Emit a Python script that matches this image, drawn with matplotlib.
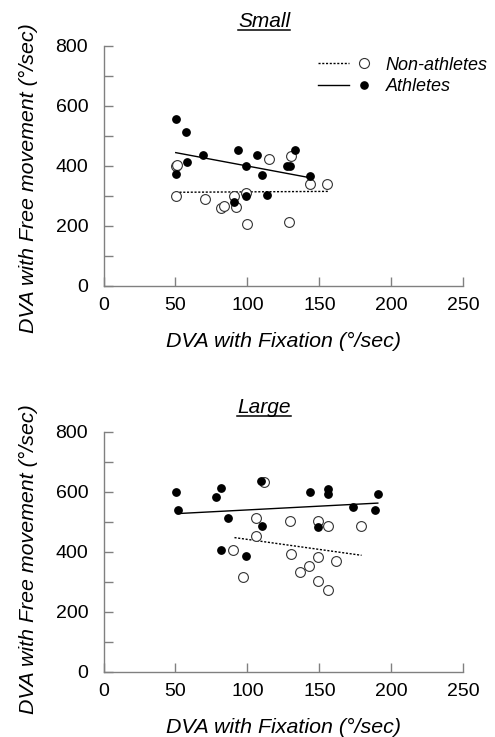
import matplotlib
matplotlib.use("Agg")
import matplotlib.pyplot as plt
import numpy as np
from matplotlib.legend_handler import HandlerTuple
from matplotlib.lines import Line2D

plt.rcParams['font.family'] = ['Liberation Sans', 'DejaVu Sans']

# ---- Small ----
small_ath_x = [50.2, 57.6, 58.1, 50.2, 69.4, 93.5, 106.5, 99.3, 110.4, 113.4, 99.3, 91.0, 127.6, 129.7, 133.2, 143.5]
small_ath_y = [556, 512, 412, 373, 437, 453, 437, 400, 370, 303, 300, 281, 400, 400, 452, 367]
small_non_x = [50.2, 51.0, 50.2, 70.5, 81.8, 83.4, 91.0, 92.0, 99.3, 99.5, 114.7, 130.4, 129.0, 143.5, 155.3]
small_non_y = [400, 404, 300, 289, 259, 265, 301, 264, 309, 206, 422, 432, 212, 340, 340]
small_ath_fit_x = [50.2, 142.9]
small_ath_fit_y = [444, 361]
small_non_fit_x = [50.2, 156.0]
small_non_fit_y = [312, 315]

# ---- Large ----
large_ath_x = [50.2, 51.6, 78.3, 81.8, 86.2, 81.8, 99.1, 109.2, 110.1, 143.8, 156.0, 156.0, 148.8, 173.7, 188.5, 190.6]
large_ath_y = [600, 540, 583, 613, 513, 407, 385, 637, 486, 600, 608, 593, 481, 550, 539, 593]
large_non_x = [111.8, 106.2, 106.2, 90.3, 97.2, 129.5, 130.4, 148.8, 155.8, 178.6, 148.8, 161.3, 142.9, 136.4, 148.8, 155.8]
large_non_y = [633, 514, 454, 405, 315, 501, 391, 501, 486, 486, 383, 368, 353, 331, 303, 273]
large_ath_fit_x = [51.2, 190.6]
large_ath_fit_y = [527, 562]
large_non_fit_x = [91.0, 179.3]
large_non_fit_y = [447, 388]

titles = ["Small", "Large"]
xticks = [0, 50, 100, 150, 200, 250]
yticks = [0, 200, 400, 600, 800]
xlabel = "DVA with Fixation (°/sec)"
ylabel = "DVA with Free movement (°/sec)"
legend_labels = ["Non-athletes", "Athletes"]

W, H = 495, 737
fig = plt.figure(figsize=(W / 100, H / 100), dpi=100)
left = 103.5 / W
width = (463.3 - 103.5) / W
ax1 = fig.add_axes([left, 1 - 286 / H, width, (286 - 45.7) / H])
ax2 = fig.add_axes([left, 1 - 671.7 / H, width, (671.7 - 431.7) / H])

gray = '#808080'
dots = (0, (1.5, 1.2))

panels = [
    (ax1, small_ath_x, small_ath_y, small_non_x, small_non_y,
     small_ath_fit_x, small_ath_fit_y, small_non_fit_x, small_non_fit_y),
    (ax2, large_ath_x, large_ath_y, large_non_x, large_non_y,
     large_ath_fit_x, large_ath_fit_y, large_non_fit_x, large_non_fit_y),
]
ylabel_y = [0.449, 0.47]

title_texts = []
for i, (ax, ax_x, ax_y, nx, ny, afx, afy, nfx, nfy) in enumerate(panels):
    ax.plot(afx, afy, color='black', lw=1.0, zorder=2)
    ax.plot(nfx, nfy, color='black', lw=1.0, ls=dots, zorder=2)
    ax.scatter(nx, ny, s=50, facecolors='white', edgecolors='#333333', linewidths=0.8, zorder=3)
    ax.scatter(ax_x, ax_y, s=28, color='black', zorder=4)
    ax.set_xlim(0, 250)
    ax.set_ylim(0, 800)
    ax.set_xticks(xticks)
    ax.set_yticks(yticks)
    ax.set_yticks(np.arange(100, 800, 200), minor=True)
    for s in ['top', 'right']:
        ax.spines[s].set_visible(False)
    for s in ['left', 'bottom']:
        ax.spines[s].set_color(gray)
        ax.spines[s].set_linewidth(1.0)
    ax.tick_params(which='both', direction='in', length=6.5, width=1.0, color=gray,
                   labelsize=14, labelcolor='black', pad=8)
    ax.tick_params(axis='y', pad=11)
    ax.set_xlabel(xlabel, fontsize=15.4, style='italic', labelpad=13)
    ax.set_ylabel(ylabel, fontsize=15.4, style='italic')
    ax.yaxis.set_label_coords((38 - 103.5) / 359.8, ylabel_y[i])
    t = ax.text(0.446, 1.079, titles[i], transform=ax.transAxes,
                ha='center', va='baseline', fontsize=15, style='italic')
    title_texts.append((ax, t))

h_non = (Line2D([], [], color='black', lw=1.0, ls=dots),
         Line2D([], [], marker='o', ls='none', markersize=7.2, markerfacecolor='white',
                markeredgecolor='#333333', markeredgewidth=0.8))
h_ath = (Line2D([], [], color='black', lw=1.0),
         Line2D([], [], marker='o', ls='none', markersize=5.2, color='black'))
leg = ax1.legend([h_non, h_ath], legend_labels, handler_map={tuple: HandlerTuple(ndivide=None, pad=0.0)},
                 loc='upper left', bbox_to_anchor=(0.596, 0.954), frameon=False,
                 handlelength=3.43, handletextpad=0.33, labelspacing=0.25,
                 prop={'style': 'italic', 'size': 13}, borderpad=0, borderaxespad=0)

# underline titles
fig.canvas.draw()
renderer = fig.canvas.get_renderer()
for ax, t in title_texts:
    bb = t.get_window_extent(renderer)
    base = ax.transAxes.transform((0, 1.079))[1]
    y = base - 3.0
    fig.add_artist(Line2D([bb.x0 / W, bb.x1 / W], [y / H, y / H], color='black', lw=1.1,
                          transform=fig.transFigure))

fig.savefig('out.png', dpi=100)
